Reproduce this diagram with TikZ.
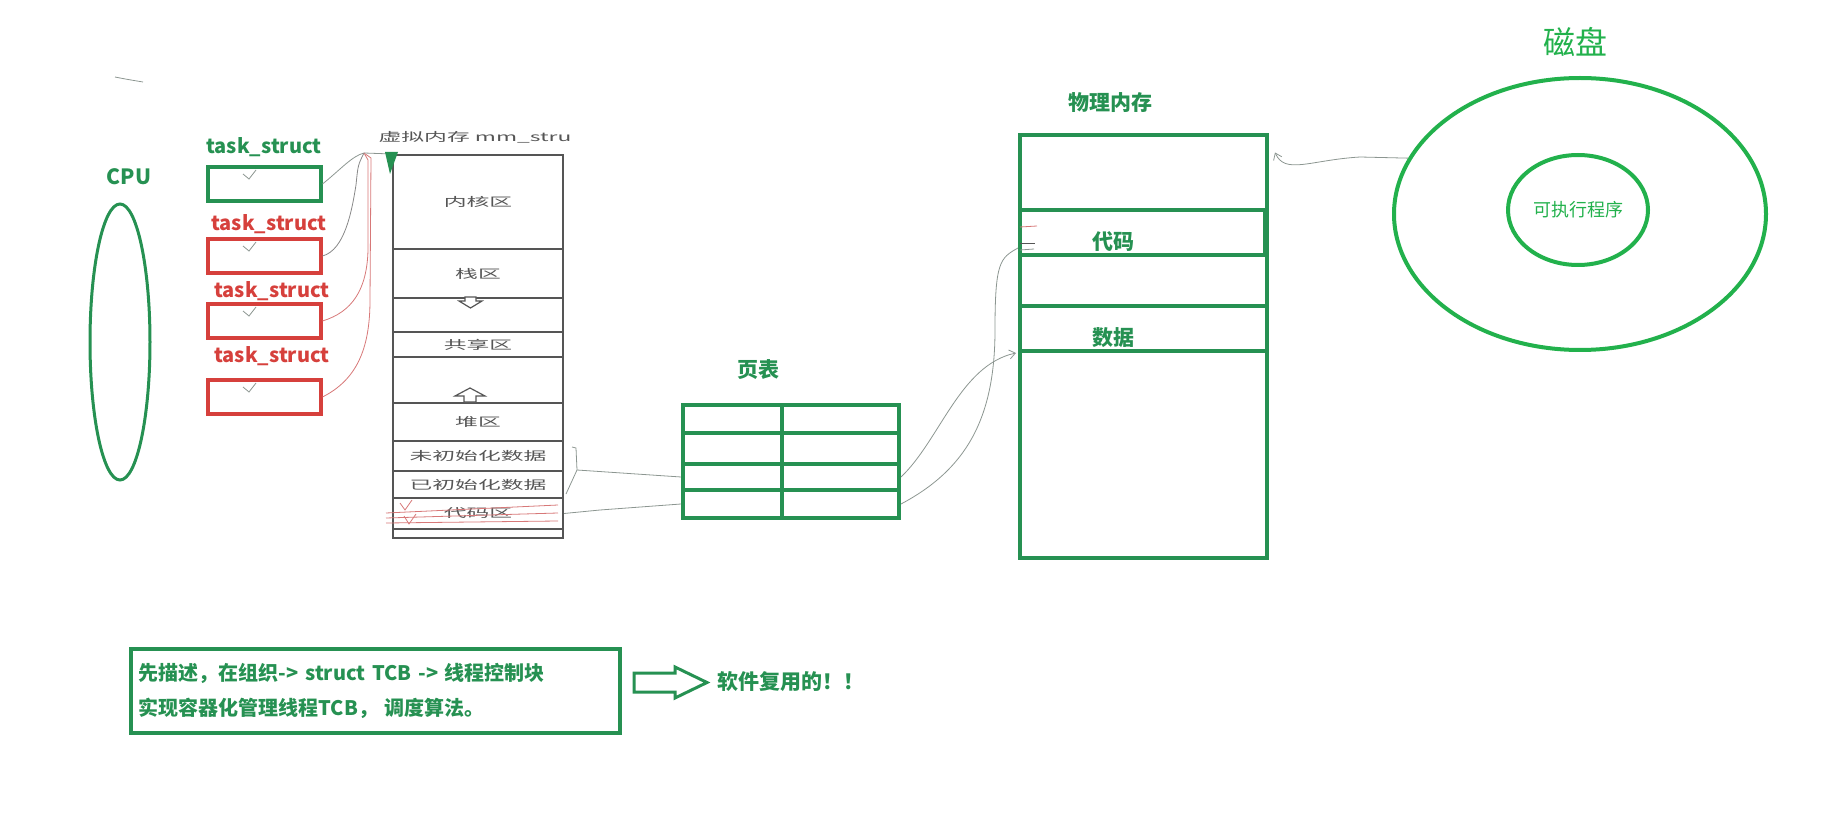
\documentclass[tikz,border=0pt]{standalone}
\usepackage{fontspec}
\usepackage{graphicx}
\usepackage{xcolor}
\usepackage{tikz}
\usetikzlibrary{positioning, arrows.meta, shapes.geometric}
\setmainfont{Noto Sans CJK SC}
\definecolor{boxgreen}{RGB}{38,145,82}
\definecolor{diskgreen}{RGB}{34,177,76}
\definecolor{boxred}{RGB}{214,64,60}
\definecolor{vmgray}{RGB}{85,85,85}
\definecolor{inkgray}{RGB}{140,150,145}
\definecolor{inkred}{RGB}{215,120,120}
\newcommand{\wide}[1]{\scalebox{1.9}[1]{#1}}

\begin{document}
\begin{tikzpicture}[x=1pt, y=-1pt,
  title/.style={font=\fontsize{21}{21}\selectfont\bfseries, text=boxgreen, inner sep=0pt},
  task/.style={draw=#1, line width=4pt, minimum width=113pt, minimum height=34pt, inner sep=0pt},
  vmrow/.style={draw=vmgray, line width=2pt, minimum width=170pt, inner sep=0pt,
                text=vmgray, font=\fontsize{12}{12}\selectfont},
  cell/.style={draw=boxgreen, line width=4pt, inner sep=0pt, anchor=north west},
  pmrow/.style={draw=boxgreen, line width=4pt, minimum width=247pt, inner sep=0pt, anchor=north},
  ink/.style={inkgray, line width=0.8pt},
  redink/.style={inkred, line width=0.8pt},
  tip/.style={-{Straight Barb[length=6pt, width=9pt]}},
]
  \useasboundingbox (0,0) rectangle (1824,826);

  \node[title] (cpu-label) at (129,177) {CPU};
  \node[draw=boxgreen, line width=3pt, ellipse, minimum width=60pt, minimum height=276pt] (cpu) at (120,342) {};

  \foreach \i/\y/\c/\lx/\ly in {1/184/boxgreen/264/147, 2/256/boxred/269/224,
                                3/321/boxred/272/291, 4/397/boxred/272/356} {
    \node[task=\c] (task\i) at (264,\y) {};
    \node[title, text=\c, font=\fontsize{20}{20}\selectfont\bfseries] (task\i-label) at (\lx,\ly) {task\_struct};
    \draw[ink] (243,\y-10) -- (249,\y-5) -- (256,\y-14);
  }

  \node[text=vmgray, font=\fontsize{12}{12}\selectfont] (vm-title) at (475,137) {\wide{虚拟内存 mm\_stru}};
  \foreach \name/\ya/\yb/\txt in {kern/154/248/内核区, stack/248/297/栈区, gap1/297/331/,
      share/331/356/共享区, gap2/356/402/, heap/402/440/堆区, bss/440/470/未初始化数据,
      data/470/497/已初始化数据, code/497/528/代码区, tail/528/537/}
    \node[vmrow, minimum height={\yb-\ya}, anchor=north] (vm-\name) at (478,\ya) {\wide{\txt}};
  \draw[vmgray, line width=1.2pt, fill=white] (465,297) -- (476,297) -- (476,301) -- (482,301)
    -- (470.5,308) -- (459,301) -- (465,301) -- cycle;
  \draw[vmgray, line width=1.2pt, fill=white] (470,388) -- (485,396) -- (476,396) -- (476,402)
    -- (464,402) -- (464,396) -- (455,396) -- cycle;

  \node[title] (pt-title) at (758,370) {页表};
  \foreach \r/\ya/\yb in {1/403/431, 2/431/462, 3/462/488, 4/488/516} {
    \node[cell, minimum width=99pt, minimum height={\yb-\ya}] (pt-\r-1) at (681,\ya) {};
    \node[cell, minimum width=117pt, minimum height={\yb-\ya}] (pt-\r-2) at (780,\ya) {};
  }

  \node[title] (pm-title) at (1110,103) {物理内存};
  \foreach \name/\ya/\yb in {top/133/208, code/208/253, free/253/304, data/304/349, rest/349/556}
    \node[pmrow, minimum height={\yb-\ya}] (pm-\name) at (1143.5,\ya) {};
  \draw[boxgreen, line width=5pt] ([xshift=-4pt]pm-code.north east) -- ([xshift=-4pt]pm-code.south east);
  \node[title] (pm-code-label) at (1113,242) {代码};
  \node[title] (pm-data-label) at (1113,338) {数据};

  \node[text=diskgreen, font=\fontsize{32}{32}\selectfont] (disk-label) at (1575,42) {磁盘};
  \node[draw=diskgreen, line width=4pt, ellipse, minimum width=372pt, minimum height=272pt] (disk) at (1580,214) {};
  \node[draw=diskgreen, line width=4pt, ellipse, minimum width=140pt, minimum height=110pt, inner sep=0pt,
        text=diskgreen, font=\fontsize{18}{18}\selectfont] (exe) at (1578,210) {可执行程序};

  \node[draw=boxgreen, line width=3.5pt, minimum width=489pt, minimum height=84pt, anchor=north west,
        text width=473pt, align=left, inner xsep=8pt, text=boxgreen,
        font=\fontsize{20}{35}\selectfont\bfseries] (note) at (129,647)
        {先描述，在组织-> struct TCB -> 线程控制块\\实现容器化管理线程TCB， 调度算法。};
  \draw[boxgreen, line width=3pt] (634,673) -- (675,673) -- (675,667) -- (707,682.5) -- (675,698)
    -- (675,692) -- (634,692) -- cycle;
  \node[title, anchor=west] (reuse) at (717,682) {软件复用的！！};

  \coordinate (hub) at (364,153);
  \draw[ink] (115,77) .. controls (125,79) .. (143,82);
  \draw[ink] (task1.east) .. controls (340,170) and (352,156) .. (hub);
  \draw[vmgray!70, line width=0.8pt] (task2.east) .. controls (345,250) and (352,210) .. (356,185)
    .. controls (358,165) .. (hub);
  \draw[redink] (task3.east) .. controls (352,312) and (367,290) .. (368,250) -- (368,160) -- (hub);
  \draw[redink] (task4.east) .. controls (356,380) and (370,350) .. (370,300) -- (371,158) -- (hub);
  \draw[ink] (hub) -- (vm-kern.north west);
  \fill[boxgreen] (385,152) -- (398,152) -- (390,174) -- cycle;

  \foreach \ya/\yb in {513/505, 518/513, 523/521}
    \draw[redink] (386,\ya) -- (558,\yb);
  \draw[redink] (400,503) -- (405,510) -- (412,500);
  \draw[redink] (404,516) -- (409,524) -- (416,514);

  \coordinate (brace) at (577,470);
  \draw[ink] (572,447) -- (576,448) -- (brace) -- (566,494);
  \draw[ink] (brace) -- (pt-3-1.west);
  \draw[ink] (vm-code.east) -- (600,510) -- (pt-4-1.west);

  \draw[ink, tip] (pt-3-2.east) .. controls (940,440) and (960,365) .. ([xshift=-2pt]pm-data.south west);
  \draw[ink] (pt-4-2.east) .. controls (965,470) and (995,420) .. (995,330)
    .. controls (995,262) and (1000,258) .. ([yshift=5pt]pm-free.north west);
  \draw[redink] (1020,227) -- (1037,226);
  \draw[vmgray, line width=0.8pt] (1020,243) -- (1035,243);
  \draw[ink] (1020,250) -- (1034,249);

  \draw[ink, tip] (disk.162) -- (1360,157) .. controls (1310,160) and (1285,175) .. ([xshift=6pt, yshift=20pt]pm-top.east);
\end{tikzpicture}
\end{document}
